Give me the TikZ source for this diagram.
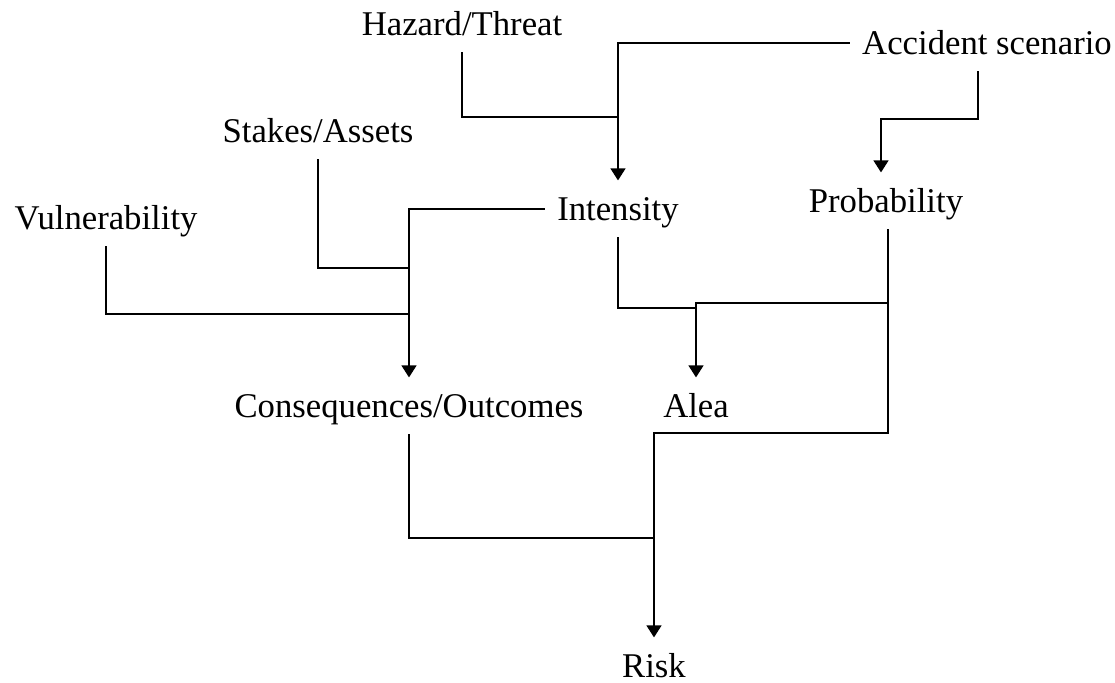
\documentclass[tikz,border=0pt]{standalone}
\usepackage{fontspec}
\setmainfont{Liberation Serif}
\usetikzlibrary{arrows.meta}

\tikzset{
    label/.style={anchor=base, font=\fontsize{17.35}{20}\selectfont,
        text height=15.6pt, text depth=3.5pt, inner xsep=6pt, inner ysep=4.5pt},
    link/.style={line width=0.7pt},
    arr/.style={link, -{Triangle[width=7.5pt,length=6pt]}}
}

\begin{document}
\begin{tikzpicture}[x=0.5pt, y=-0.5pt]
    \useasboundingbox (0,0) rectangle (1115,683);

    % Factors
    \node[label] (haz) at (462,36)  {Hazard/Threat};
    \node[label] (acc) at (987,55)  {Accident scenario};
    \node[label] (stk) at (318,143) {Stakes/Assets};
    \node[label] (int) at (618,221) {Intensity};
    \node[label] (prb) at (886,213) {Probability};
    \node[label] (vul) at (106,230) {Vulnerability};
    \node[label] (csq) at (409,418) {Consequences/Outcomes};
    \node[label] (ale) at (696,418) {Alea};
    \node[label] (rsk) at (654,678) {Risk};

    % Junctions
    \coordinate (jHaz) at (618,117);
    \coordinate (jPrb) at (881,119);
    \coordinate (jStk) at (409,268);
    \coordinate (jVul) at (409,314);
    \coordinate (jInt) at (696,308);
    \coordinate (jAle) at (696,303);
    \coordinate (jRsk) at (654,433);
    \coordinate (jCsq) at (654,538);

    % Intensity and probability
    \draw[arr] (acc.west) -| (int.north);
    \draw[link] (haz.south) |- (jHaz);
    \draw[arr] ([xshift=-4.5pt]acc.south) |- (jPrb) -- (jPrb |- prb.north);

    % Consequences
    \draw[arr] (int.west) -| (csq.north);
    \draw[link] (stk.south) |- (jStk);
    \draw[link] (vul.south) |- (jVul);

    % Alea
    \draw[link] (int.south) |- (jInt);
    \draw[arr] ([xshift=1pt]prb.south) |- (jAle) -- (ale.north);

    % Risk
    \draw[arr] ([xshift=1pt]prb.south) |- (jRsk) -- (rsk.north);
    \draw[link] (csq.south) |- (jCsq);
\end{tikzpicture}
\end{document}
